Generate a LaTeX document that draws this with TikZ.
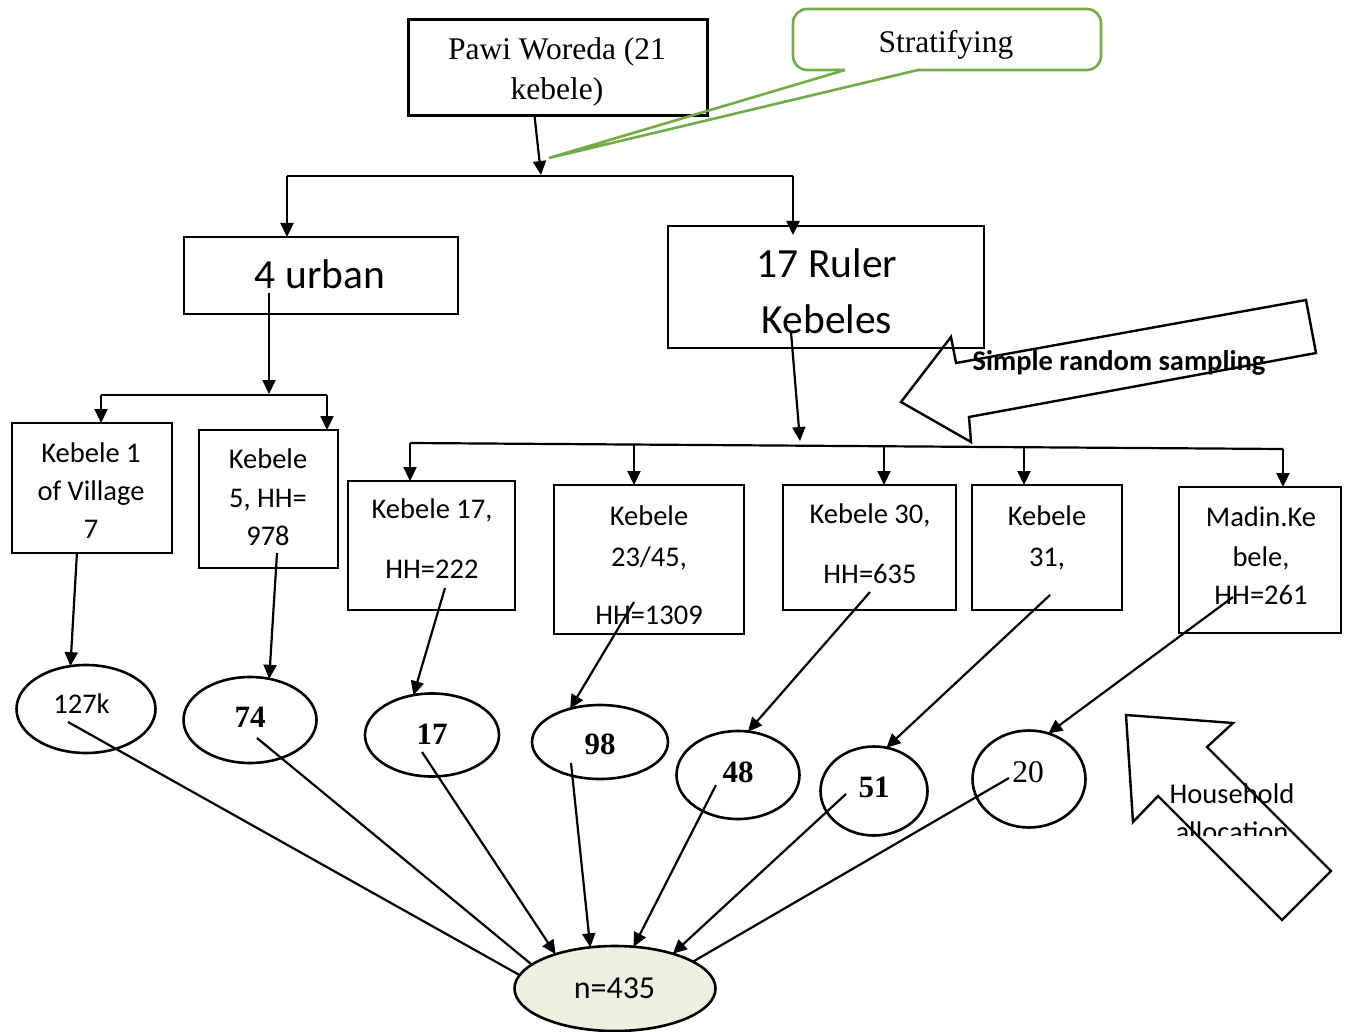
\documentclass[tikz,border=0pt]{standalone}
\usepackage{fontspec}
\setmainfont{Liberation Serif}
\newfontfamily\calfont{Carlito}
\usetikzlibrary{arrows.meta,shapes.geometric}
\definecolor{calloutgreen}{HTML}{70AD47}
\definecolor{nfill}{HTML}{EBF1DE}
\begin{document}
\begin{tikzpicture}[x=1pt,y=-1pt,
  box/.style={draw,line width=2.6pt,inner sep=0pt,outer sep=0pt},
  oval/.style={draw,ellipse,line width=2.6pt,inner sep=0pt,outer sep=0pt},
  conn/.style={line width=2.2pt},
  arr/.style={conn,-{Triangle[length=14pt,width=13pt]}},
  bigarrow/.style={draw,line width=2.4pt,line join=miter},
  callout/.style={draw=calloutgreen,line width=2.6pt},
  ctxt/.style={font=\calfont\fontsize{28.5}{34}\selectfont,anchor=base,inner sep=0pt},
  bigc/.style={font=\calfont\fontsize{41.5}{48}\selectfont,anchor=base,inner sep=0pt},
  ttxt/.style={font=\fontsize{31.5}{38}\selectfont,anchor=base,inner sep=0pt},
  btxt/.style={font=\bfseries\fontsize{31}{37}\selectfont,anchor=base,inner sep=0pt}]
\fill[white] (0,0) rectangle (1349,1032);
\useasboundingbox (0,0) rectangle (1349,1032);

% top level
\node[box,minimum width=299pt,minimum height=96pt] (pawi) at (558,67.5) {};
\node[ttxt] (pawit1) at (557,60) {Pawi Woreda (21};
\node[ttxt] (pawit2) at (557,100) {kebele)};

\draw[callout,rounded corners=14pt] (845,70) -- (793,70) -- (793,9) -- (1101,9) -- (1101,70) -- (918,70);
\draw[callout,line join=miter] (918,70) -- (549,158) -- (845,70);
\node[ttxt] (strat) at (946,53) {Stratifying};

\node[box,minimum width=274pt,minimum height=77pt] (urban) at (321,275.5) {};
\node[bigc] (urbant) at (320,289) {4 urban};
\node[box,minimum width=316pt,minimum height=122pt] (ruler) at (826,287) {};
\node[bigc] (rulert1) at (827,278) {17 Ruler};
\node[bigc] (rulert2) at (827,333) {Kebeles};

% kebele boxes
\node[box,minimum width=160pt,minimum height=130pt] (k1) at (92,488) {};
\node[ctxt] (k1a) at (91,462) {Kebele 1};
\node[ctxt] (k1b) at (91,500) {of Village};
\node[ctxt] (k1c) at (91,538) {7};

\node[box,minimum width=139pt,minimum height=138pt] (k5) at (268.5,499) {};
\node[ctxt] (k5a) at (268,468) {Kebele};
\node[ctxt] (k5b) at (268,507) {5, HH=};
\node[ctxt] (k5c) at (268,545) {978};

\node[box,minimum width=167pt,minimum height=129pt] (k17) at (431.5,545.5) {};
\node[ctxt] (k17a) at (432,518) {Kebele 17,};
\node[ctxt] (k17b) at (432,578) {HH=222};

\node[box,minimum width=190pt,minimum height=149pt] (k23) at (649,559.5) {};
\node[ctxt] (k23a) at (649,525) {Kebele};
\node[ctxt] (k23b) at (649,566) {23/45,};
\node[ctxt] (k23c) at (649,624) {HH=1309};

\node[box,minimum width=173pt,minimum height=125pt] (k30) at (869.5,547.5) {};
\node[ctxt] (k30a) at (870,523) {Kebele 30,};
\node[ctxt] (k30b) at (870,583) {HH=635};

\node[box,minimum width=150pt,minimum height=125pt] (k31) at (1047,547.5) {};
\node[ctxt] (k31a) at (1047,525) {Kebele};
\node[ctxt] (k31b) at (1047,566) {31,};

\node[box,minimum width=162pt,minimum height=146pt] (madin) at (1260,560) {};
\node[ctxt] (mda) at (1261,526) {Madin.Ke};
\node[ctxt] (mdb) at (1261,566) {bele,};
\node[ctxt] (mdc) at (1261,604) {HH=261};

% ellipses
\node[oval,minimum width=139pt,minimum height=88pt] (e1) at (86,709) {};
\node[ctxt] (e1t) at (81.5,713) {127k};
\node[oval,minimum width=133pt,minimum height=86pt] (e2) at (250,720) {};
\node[btxt] (e2t) at (250,727) {74};
\node[oval,minimum width=134pt,minimum height=83pt] (e3) at (432,735) {};
\node[btxt] (e3t) at (432,744) {17};
\node[oval,minimum width=136pt,minimum height=74pt] (e4) at (600,742) {};
\node[btxt] (e4t) at (600,754) {98};
\node[oval,minimum width=123pt,minimum height=88pt] (e5) at (738,775) {};
\node[btxt] (e5t) at (738,782) {48};
\node[oval,minimum width=107pt,minimum height=89pt] (e6) at (874,791) {};
\node[btxt] (e6t) at (874,797) {51};
\node[oval,minimum width=113pt,minimum height=97pt] (e7) at (1029,779) {};
\node[ttxt] (e7t) at (1028,782) {20};

\node[oval,fill=nfill,minimum width=201pt,minimum height=85pt] (n) at (615,988.5) {};
\node[font=\calfont\fontsize{32}{38}\selectfont,anchor=base,inner sep=0pt] (nt) at (614.5,998) {n=435};

% connectors top
\coordinate (ptip) at (541,175);
\draw[arr] ([shift={(-23.5,48)}]pawi.center) -- (ptip);
\coordinate (jl) at (287,176);
\coordinate (jr) at (793,176);
\draw[conn] (jl) -- (jr);
\draw[arr] (jl) -- (jl |- urban.north);
\path (jr |- ruler.north) ++(0,9) coordinate (rtip);
\draw[arr] (jr) -- (rtip);

% urban branch
\coordinate (utip) at (269,394);
\draw[arr] ([shift={(-52,17.5)}]urban.center) -- (utip);
\coordinate (ul) at (101,395);
\coordinate (ur) at (327,395);
\draw[conn] (ul) -- (ur);
\draw[arr] (ul) -- (ul |- k1.north);
\draw[arr] (ur) -- (ur |- k5.north);

% rural branch
\coordinate (rrtip) at (800,441);
\draw[arr] ([shift={(-35,45)}]ruler.center) -- (rrtip);
\coordinate (r1) at (410,443);
\coordinate (r2) at (634,444.5);
\coordinate (r3) at (884,446.3);
\coordinate (r4) at (1024,447.2);
\coordinate (r5) at (1283,449);
\draw[conn] (r1) -- (r5);
\draw[arr] (r1) -- (r1 |- k17.north);
\draw[arr] (r2) -- (r2 |- k23.north);
\draw[arr] (r3) -- (r3 |- k30.north);
\draw[arr] (r4) -- (r4 |- k31.north);
\draw[arr] (r5) -- (r5 |- madin.north);

% boxes to ellipses
\draw[arr] ([shift={(-15,64)}]k1.center) -- (e1.110);
\draw[arr] ([shift={(8.5,54)}]k5.center) -- (e2.65);
\draw[arr] ([shift={(13.5,42.5)}]k17.center) -- (e3.115);
\draw[arr] ([shift={(-15,42.5)}]k23.center) -- (e4.132);
\draw[arr] ([shift={(0.5,44.5)}]k30.center) -- (e5.77);
\draw[arr] ([shift={(3,47.5)}]k31.center) -- (e6.74);
\draw[arr] ([shift={(-27,37)}]madin.center) -- (e7.67);

% ellipses to n
\draw[conn] ([shift={(-18,13)}]e1.center) -- (n.172);
\draw[conn] ([shift={(7,18)}]e2.center) -- (n.164);
\draw[arr] ([shift={(-10,17)}]e3.center) -- (n.150);
\draw[arr] ([shift={(-29,21)}]e4.center) -- (n.121);
\draw[arr] ([shift={(-22,10)}]e5.center) -- (n.66);
\draw[arr] ([shift={(-28,3)}]e6.center) -- (n.31);
\draw[conn] ([shift={(-20,-1)}]e7.center) -- (n.19);

% block arrows
\draw[bigarrow] (901,402) -- (951,337) -- (956,363) -- (1306,300) -- (1316,353) -- (969,417) -- (971,442) -- cycle;
\node[font=\calfont\bfseries\fontsize{28.5}{34}\selectfont,anchor=base,inner sep=0pt] (srs) at (1119,370) {Simple random sampling};

\draw[bigarrow] (1126,715) -- (1233,723) -- (1207,747) -- (1331,871) -- (1282,920) -- (1158,796) -- (1133,822) -- cycle;
\node[ctxt] (hh1) at (1232,803) {Household};
\begin{scope}
\clip (1140,810) rectangle (1330,835);
\node[ctxt] (hh2) at (1232,841) {allocation};
\end{scope}
\end{tikzpicture}
\end{document}
